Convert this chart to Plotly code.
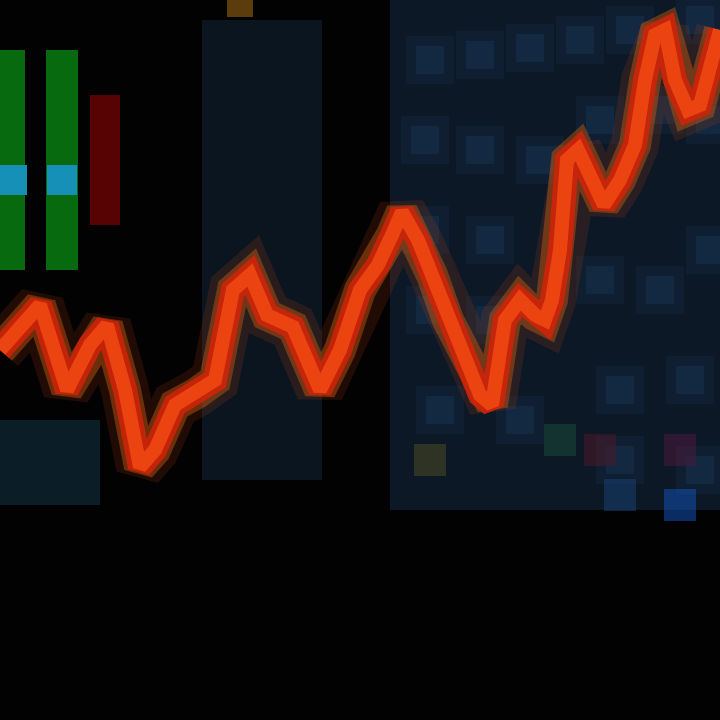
import plotly.graph_objects as go

# ---- price line (x position, price level; higher = up) ----
line_x = [0, 20, 40, 67, 90, 107, 125, 140, 155, 175, 197, 215, 233, 250, 267, 293, 320, 340, 360, 378,
          392, 402, 418, 432, 448, 465, 480, 492, 505, 520, 535, 545, 552, 560, 567, 578, 592, 604, 620,
          635, 645, 655, 665, 675, 688, 700, 712, 720]
line_y = [370, 395, 415, 330, 375, 395, 330, 253, 270, 315, 327, 340, 430, 445, 405, 393, 330, 370, 430, 455,
          485, 508, 480, 445, 400, 360, 325, 315, 400, 420, 405, 400, 420, 470, 560, 570, 540, 515, 540,
          575, 640, 685, 690, 640, 610, 615, 660, 690]

# ---- background panels (bars): centre, width, base, top ----
panel_x = [555, 262, 50]
panel_w = [330, 120, 100]
panel_base = [210, 240, 215]
panel_top = [720, 700, 300]
panel_col = ["#0c1826", "#0a1520", "#0b1e28"]

# ---- left indicator bars ----
ind_x = [12, 62, 105]
ind_w = [26, 32, 30]
ind_base = [450, 450, 495]
ind_top = [670, 670, 625]
ind_col = ["#0a8412", "#0a8412", "#6e0404"]

# cyan marks
cyan_x = [12, 62]
cyan_y = [540, 540]

# ---- right grid blobs ----
grid_x = [430, 480, 530, 580, 630, 700, 425, 480, 540, 600, 660, 710,
          425, 490, 600, 660, 710, 430, 490, 620, 690, 440, 520, 620, 700]
grid_y = [660, 665, 672, 680, 690, 700, 580, 570, 560, 600, 610, 600,
          490, 480, 440, 430, 470, 410, 400, 330, 340, 310, 300, 260, 250]

# ---- small coloured dots lower right ----
dot_x = [430, 560, 600, 680, 680, 620]
dot_y = [260, 280, 270, 270, 215, 225]
dot_col = ["#4a4a20", "#1a4a3a", "#4a1a2a", "#4a1a3a", "#1450b0", "#1a4070"]

fig = go.Figure()

for x, w, b, t, c in zip(panel_x, panel_w, panel_base, panel_top, panel_col):
    fig.add_trace(go.Bar(x=[x], y=[t - b], base=[b], width=[w], marker=dict(color=c, line=dict(width=0))))

fig.add_trace(go.Scatter(x=grid_x, y=grid_y, mode="markers",
                         marker=dict(symbol="square", size=48, color="rgba(28,70,110,0.16)", line=dict(width=0))))
fig.add_trace(go.Scatter(x=grid_x, y=grid_y, mode="markers",
                         marker=dict(symbol="square", size=28, color="rgba(35,85,130,0.2)", line=dict(width=0))))

for x, w, b, t, c in zip(ind_x, ind_w, ind_base, ind_top, ind_col):
    fig.add_trace(go.Bar(x=[x], y=[t - b], base=[b], width=[w], marker=dict(color=c, line=dict(width=0), opacity=0.8)))

fig.add_trace(go.Scatter(x=cyan_x, y=cyan_y, mode="markers",
                         marker=dict(symbol="square", size=30, color="#1790b8", line=dict(width=0))))
fig.add_trace(go.Scatter(x=[240], y=[716], mode="markers",
                         marker=dict(symbol="square", size=26, color="rgba(150,100,20,0.6)", line=dict(width=0))))
fig.add_trace(go.Scatter(x=dot_x, y=dot_y, mode="markers",
                         marker=dict(symbol="square", size=32, color=dot_col, opacity=0.55, line=dict(width=0))))

# glow + line
fig.add_trace(go.Scatter(x=line_x, y=line_y, mode="lines",
                         line=dict(color="rgba(180,60,15,0.18)", width=48)))
fig.add_trace(go.Scatter(x=line_x, y=line_y, mode="lines",
                         line=dict(color="rgba(200,90,15,0.45)", width=32)))
fig.add_trace(go.Scatter(x=line_x, y=line_y, mode="lines",
                         line=dict(color="rgba(205,35,10,0.9)", width=24)))
fig.add_trace(go.Scatter(x=line_x, y=line_y, mode="lines",
                         line=dict(color="#ec4410", width=14)))

fig.update_layout(
    width=720, height=720, showlegend=False, barmode="overlay",
    margin=dict(l=0, r=0, t=0, b=0),
    paper_bgcolor="#020203", plot_bgcolor="#020203",
    xaxis=dict(range=[0, 720], visible=False, fixedrange=True),
    yaxis=dict(range=[0, 720], visible=False, fixedrange=True),
)

fig.write_html("out.html", config={"displayModeBar": False},
               post_script="document.body.style.margin='0';document.body.style.background='#020203';document.body.style.overflow='hidden';")
